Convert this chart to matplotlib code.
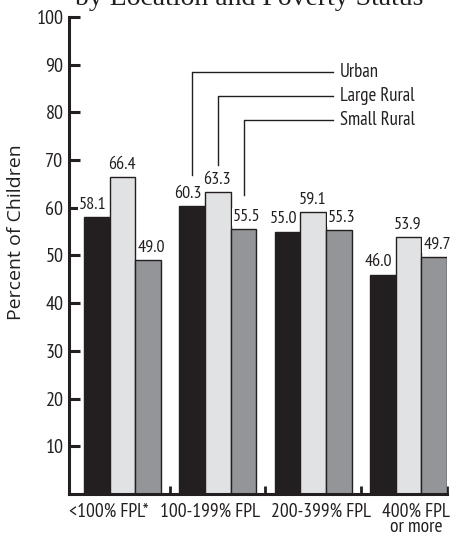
import matplotlib.pyplot as plt
from matplotlib.ticker import FixedLocator

categories = ['<100% FPL*', '100-199% FPL', '200-399% FPL', '400% FPL\nor more']
urban = [58.1, 60.3, 55.0, 46.0]
large_rural = [66.4, 63.3, 59.1, 53.9]
small_rural = [49.0, 55.5, 55.3, 49.7]
series_names = ['Urban', 'Large Rural', 'Small Rural']
colors = ['#231f20', '#e1e2e4', '#939598']

narrow = ['PT Sans Narrow', 'DejaVu Sans']
ink = '#231f20'

fig = plt.figure(figsize=(4.61, 5.36), dpi=100)
ax = fig.add_axes([0.1497, 0.0784, 0.8199, 0.8899])

w = 0.27
x = list(range(len(categories)))
label_shift = [-3, -0.7, 2]  # points, value labels nudged sideways per series
for k, (vals, c) in enumerate(zip([urban, large_rural, small_rural], colors)):
    pos = [i + (k - 1) * w for i in x]
    ax.bar(pos, vals, width=w, color=c, edgecolor=ink, linewidth=1.0, zorder=2)
    for p, v in zip(pos, vals):
        ax.annotate(f'{v:.1f}', (p, v), xytext=(label_shift[k], 3),
                    textcoords='offset points', ha='center', va='bottom',
                    fontsize=13, family=narrow, color=ink, zorder=4,
                    bbox=dict(boxstyle='square,pad=0.04', fc='white', ec='none'))

# leader lines to the series names, from the second group's bars
line_bottom = [66.8, 69.0, 62.7]
line_top = [88.5, 83.4, 78.4]
line_end = 2.21
for k, name in enumerate(series_names):
    bx = 1 + (k - 1) * w
    ax.plot([bx, bx, line_end], [line_bottom[k], line_top[k], line_top[k]],
            color=ink, lw=1.0, zorder=3)
    ax.text(line_end + 0.07, line_top[k], name, ha='left', va='center',
            fontsize=13.5, family=narrow, color=ink)

ax.set_xlim(-0.561, 3.404)
ax.set_ylim(0, 100)
ax.set_yticks(range(10, 101, 10))
# category labels sit slightly spread out from the group centres
label_pos = [-0.14, 0.916, 2.084, 3.084]
ax.set_xticks(label_pos)
ax.set_xticklabels(categories, family=narrow, fontsize=14, linespacing=0.85)
ax.xaxis.set_minor_locator(FixedLocator([0.5, 1.5, 2.5, 3.404]))
ax.tick_params(axis='x', which='major', length=0, pad=6, colors=ink)
ax.tick_params(axis='x', which='minor', direction='in', length=6, width=2, color=ink)
ax.tick_params(axis='y', direction='in', length=8, width=2.2, pad=4, colors=ink)
for lbl in ax.get_yticklabels():
    lbl.set_family(narrow)
    lbl.set_fontsize(14.5)

for s in ['top', 'right']:
    ax.spines[s].set_visible(False)
for s in ['left', 'bottom']:
    ax.spines[s].set_linewidth(2.2)
    ax.spines[s].set_color(ink)

ax.set_ylabel('Percent of Children', family=['Open Sans', 'DejaVu Sans'],
              fontsize=14, color=ink)
ax.yaxis.set_label_coords(-0.116, 0.549)

fig.text(249 / 461, 1.0 - 5 / 536, 'by Location and Poverty Status', ha='center',
         va='baseline', family='Liberation Serif', fontsize=20, color=ink)

fig.savefig('out.png', dpi=100)
